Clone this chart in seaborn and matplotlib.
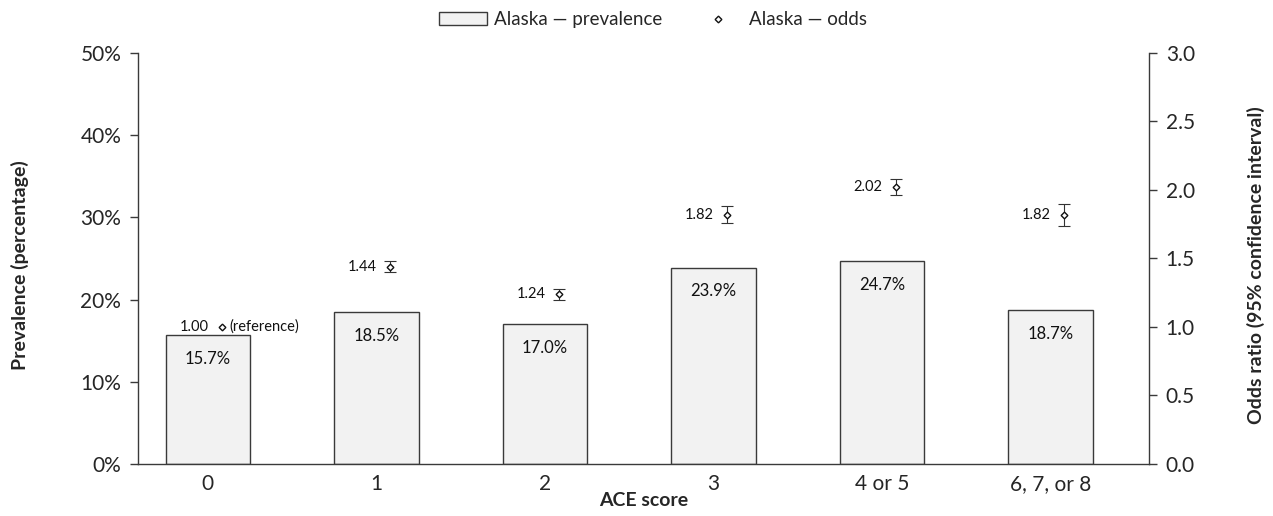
import matplotlib
matplotlib.use("Agg")
import matplotlib.pyplot as plt
import seaborn as sns
import numpy as np
import pandas as pd
from matplotlib.patches import Patch
from matplotlib.lines import Line2D
from matplotlib.ticker import FuncFormatter, MultipleLocator

# data
categories = ["0", "1", "2", "3", "4 or 5", "6, 7, or 8"]
prevalence = [15.7, 18.5, 17.0, 23.9, 24.7, 18.7]
odds = [1.00, 1.44, 1.24, 1.82, 2.02, 1.82]
odds_low = [1.00, 1.40, 1.20, 1.76, 1.96, 1.74]
odds_high = [1.00, 1.48, 1.28, 1.88, 2.08, 1.90]

sns.set_theme(style="white")
plt.rcParams["font.family"] = ["Lato", "DejaVu Sans"]

df = pd.DataFrame({"ACE score": categories, "prevalence": prevalence})

fig = plt.figure(figsize=(12.73, 5.16), dpi=100)
ax = fig.add_axes([0.1084, 0.1008, 0.7942, 0.7965])

bar_color = "#f2f2f2"
edge = "#3a3a3a"
sns.barplot(data=df, x="ACE score", y="prevalence", color=bar_color,
            saturation=1, edgecolor=edge, linewidth=1, width=0.5, ax=ax)

for i, v in enumerate(prevalence):
    ax.annotate(f"{v:.1f}%", (i, v), xytext=(0, -17), textcoords="offset points",
                ha="center", va="center", fontsize=12, color="#111111")

ax.set_ylim(0, 50)
ax.set_xlim(-0.415, 5.585)
ax.yaxis.set_major_locator(MultipleLocator(10))
ax.yaxis.set_major_formatter(FuncFormatter(lambda v, p: f"{v:.0f}%"))
ax.tick_params(axis="y", which="both", direction="out", length=6, width=1,
               color=edge, labelsize=15, left=True, pad=6)
ax.tick_params(axis="x", length=0, labelsize=15, pad=7)
ax.set_xlabel("ACE score", fontsize=14, fontweight="bold")
ax.set_ylabel("Prevalence (percentage)", fontsize=14, fontweight="bold")
ax.xaxis.set_label_coords(0.5, -0.069)
ax.yaxis.set_label_coords(-0.108, 0.485)
for s in ["top", "right"]:
    ax.spines[s].set_visible(False)
for s in ["left", "bottom"]:
    ax.spines[s].set_color(edge)
    ax.spines[s].set_linewidth(1)

# odds ratios on a second axis
ax2 = ax.twinx()
xpos = np.arange(len(categories)) + 0.083
odds_arr = np.array(odds)
yerr = np.vstack([odds_arr - np.array(odds_low), np.array(odds_high) - odds_arr])
ax2.errorbar(xpos[1:], odds_arr[1:], yerr=yerr[:, 1:], fmt="none",
             ecolor="#333333", elinewidth=0.8, capsize=4.3, capthick=0.8)
ax2.plot(xpos, odds_arr, linestyle="none", marker="D", markersize=3.4,
         markerfacecolor="white", markeredgecolor="#111111", markeredgewidth=1)
for i, (x, o) in enumerate(zip(xpos, odds)):
    ax2.annotate(f"{o:.2f}", (x, o), xytext=(-9.5, 0), textcoords="offset points",
                 ha="right", va="center", fontsize=10.5, color="#111111")
ax2.annotate("(reference)", (xpos[0], odds[0]), xytext=(5.5, 0),
             textcoords="offset points", ha="left", va="center", fontsize=10.5,
             color="#111111")

ax2.set_ylim(0, 3)
ax2.yaxis.set_major_locator(MultipleLocator(0.5))
ax2.yaxis.set_major_formatter(FuncFormatter(lambda v, p: f"{v:.1f}"))
ax2.tick_params(axis="y", direction="out", length=6, width=1, color=edge,
                labelsize=15, right=True, pad=6)
ax2.set_ylabel("Odds ratio (95% confidence interval)", fontsize=14,
               fontweight="bold", rotation=90)
ax2.yaxis.set_label_coords(1.097, 0.485)
for s in ["top", "left", "bottom"]:
    ax2.spines[s].set_visible(False)
ax2.spines["right"].set_color(edge)
ax2.spines["right"].set_linewidth(1)

handles = [
    Patch(facecolor=bar_color, edgecolor=edge, linewidth=1, label="Alaska — prevalence"),
    Line2D([], [], linestyle="none", marker="D", markersize=3.4,
           markerfacecolor="white", markeredgecolor="#111111", label="Alaska — odds"),
]
fig.legend(handles=handles, loc="upper center", bbox_to_anchor=(0.513, 1.0), ncol=2,
           frameon=False, fontsize=13.5, handlelength=2.56, handletextpad=0.37,
           columnspacing=1.7, handleheight=0.7, borderaxespad=0.2)

fig.savefig("out.png", dpi=100)
